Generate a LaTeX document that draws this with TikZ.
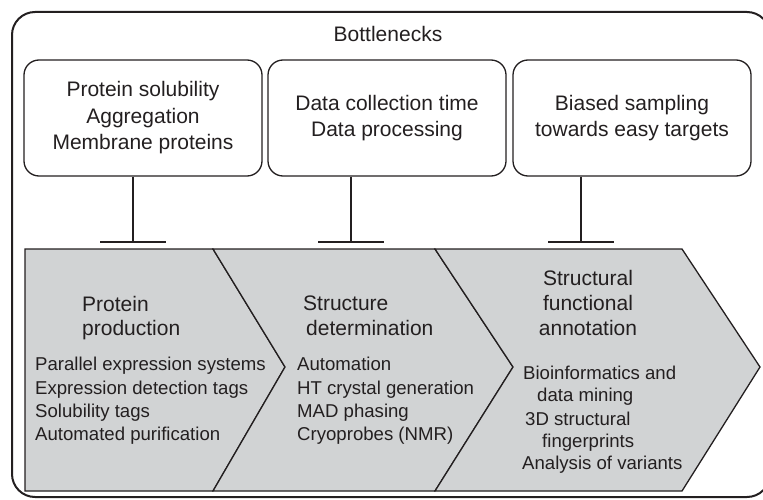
\documentclass[tikz,border=0pt]{standalone}
\usepackage{fontspec}
\setmainfont{Liberation Sans}
\definecolor{ink}{HTML}{231F20}
\definecolor{chev}{HTML}{D1D3D4}
\tikzset{
  bigtxt/.style={font=\fontsize{21}{26.5}\selectfont, text=ink, inner sep=0pt},
  smalltxt/.style={font=\fontsize{18.6}{23}\selectfont, text=ink, inner sep=0pt, anchor=base west},
  headtxt/.style={font=\fontsize{21}{25}\selectfont, text=ink, inner sep=0pt, anchor=base west},
  neckbox/.style={draw=ink, line width=1.3pt, rounded corners=15pt, minimum width=238pt, minimum height=116pt, align=center, bigtxt},
  chevshape/.style={draw=ink, fill=chev, line width=1.3pt, line join=miter},
  stem/.style={draw=ink, line width=1.2pt},
  tbar/.style={draw=ink, line width=2.2pt},
}
\begin{document}
\begin{tikzpicture}[x=1pt,y=-1pt]
\useasboundingbox (0,0) rectangle (763,500);
\clip (0,0) rectangle (763,500);
% outer frame
\draw[draw=ink, line width=2pt, rounded corners=23pt] (12,12) rectangle (770,497);
\node[bigtxt, anchor=base] (title) at (388,42) {Bottlenecks};
% bottleneck boxes
\node[neckbox] (b1) at (143,118) {Protein solubility\\Aggregation\\Membrane proteins};
\node[neckbox] (b2) at (387,118) {Data collection time\\Data processing};
\node[neckbox] (b3) at (632,118) {Biased sampling\\towards easy targets};
% chevrons
\coordinate (c1tl) at (25,249);  \coordinate (c1tr) at (213,249);
\coordinate (c1tip) at (285,367); \coordinate (c1br) at (213,491);
\coordinate (c1bl) at (25,491);
\coordinate (c2tr) at (435,249); \coordinate (c2tip) at (513,367);
\coordinate (c2br) at (435,491);
\coordinate (c3tr) at (682,249); \coordinate (c3tip) at (760,367);
\coordinate (c3br) at (682,491);
\path[chevshape] (c1tl) -- (c1tr) -- (c1tip) -- (c1br) -- (c1bl) -- cycle;
\path[chevshape] (c1tr) -- (c2tr) -- (c2tip) -- (c2br) -- (c1br) -- (c1tip) -- cycle;
\path[chevshape] (c2tr) -- (c3tr) -- (c3tip) -- (c3br) -- (c2br) -- (c2tip) -- cycle;
% inhibition connectors
\coordinate (t1) at (133,242);
\coordinate (t2) at (351,242);
\coordinate (t3) at (581,242);
\draw[stem] (b1.south -| t1) -- (t1);
\draw[stem] (b2.south -| t2) -- (t2);
\draw[stem] (b3.south -| t3) -- (t3);
\draw[tbar] ([xshift=-33pt]t1) -- ([xshift=33pt]t1);
\draw[tbar] ([xshift=-33pt]t2) -- ([xshift=33pt]t2);
\draw[tbar] ([xshift=-33pt]t3) -- ([xshift=33pt]t3);
% chevron 1 text
\node[headtxt] (h1a) at (82,311) {Protein};
\node[headtxt] (h1b) at (82,335) {production};
\node[smalltxt] (l1a) at (35,370.5) {Parallel expression systems};
\node[smalltxt] (l1b) at (35,394) {Expression detection tags};
\node[smalltxt] (l1c) at (35,417.5) {Solubility tags};
\node[smalltxt] (l1d) at (35,440.5) {Automated purification};
% chevron 2 text
\node[headtxt] (h2a) at (303,310) {Structure};
\node[headtxt] (h2b) at (306,335) {determination};
\node[smalltxt] (l2a) at (297,370.5) {Automation};
\node[smalltxt] (l2b) at (297,394) {HT crystal generation};
\node[smalltxt] (l2c) at (297,417.5) {MAD phasing};
\node[smalltxt] (l2d) at (297,440.5) {Cryoprobes (NMR)};
% chevron 3 text
\node[bigtxt, anchor=base] (h3a) at (588,285) {Structural};
\node[bigtxt, anchor=base] (h3b) at (588,310) {functional};
\node[bigtxt, anchor=base] (h3c) at (588,335) {annotation};
\node[smalltxt] (l3a) at (523,379.5) {Bioinformatics and};
\node[smalltxt] (l3b) at (537,401.5) {data mining};
\node[smalltxt] (l3c) at (525,425.5) {3D structural};
\node[smalltxt] (l3d) at (542,447.5) {fingerprints};
\node[smalltxt] (l3e) at (522,469) {Analysis of variants};
\end{tikzpicture}
\end{document}
